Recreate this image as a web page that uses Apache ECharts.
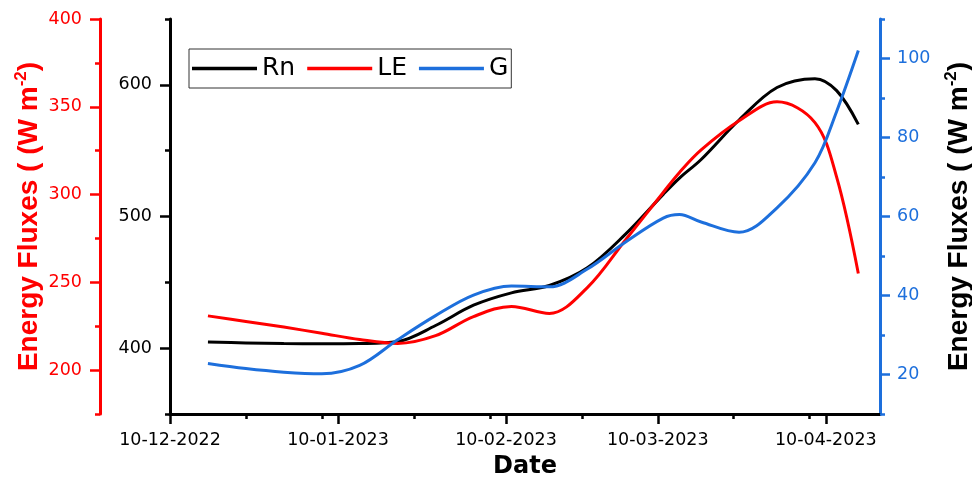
<!DOCTYPE html>
<html>
<head>
<meta charset="utf-8">
<script src="https://cdn.jsdelivr.net/npm/echarts@6/dist/echarts.min.js"></script>
<style>
  html, body { margin: 0; padding: 0; background: #ffffff; }
  #chart { width: 972px; height: 481px; }
</style>
</head>
<body>
<div id="chart"></div>
<script>
// Sampling dates (dd-mm-yyyy on the axis)
const dates = [
  '2022-12-17', '2022-12-24', '2022-12-31', '2023-01-07', '2023-01-14',
  '2023-01-21', '2023-01-28', '2023-02-04', '2023-02-11', '2023-02-18',
  '2023-02-25', '2023-03-04', '2023-03-11', '2023-03-14', '2023-03-18',
  '2023-03-25', '2023-04-01', '2023-04-08', '2023-04-12', '2023-04-16'
];
// Net radiation (W m-2), middle axis
const rn = [404.6, 404.0, 403.5, 403.3, 403.5, 405.0, 417.2, 432.6, 442.0, 447.6,
            461.0, 486.4, 516.8, 529.2, 543.3, 573.3, 598.0, 604.7, 595.6, 570.0];
// Latent heat flux (W m-2), red axis
const le = [230.9, 227.7, 224.5, 221.0, 217.4, 215.2, 219.6, 230.5, 236.3, 232.3,
            247.0, 274.0, 301.2, 312.6, 325.4, 342.0, 352.8, 341.0, 309.9, 255.0];
// Ground heat flux (W m-2), blue axis
const g = [22.8, 21.5, 20.6, 20.2, 22.3, 28.8, 34.9, 40.1, 42.4, 42.2,
           46.7, 53.5, 59.6, 60.5, 58.6, 56.0, 62.2, 73.6, 86.6, 102.0];

// Axis ticks
const xMajorTicks = ['2022-12-10', '2023-01-10', '2023-02-10', '2023-03-10', '2023-04-10'];
const xMinorTicks = ['2022-12-24', '2023-01-07', '2023-01-24', '2023-02-07',
                     '2023-02-24', '2023-03-24', '2023-04-07'];
const rnLabels = [400, 500, 600];
const leLabels = [200, 250, 300, 350, 400];
const gLabels = [20, 40, 60, 80, 100];

const RED = '#ff0000';
const BLUE = '#1d6fdc';
const BLACK = '#000000';
const TICK_FONT = 'DejaVu Sans';
const SMOOTH = 0.35;

// Dates are kept as millisecond timestamps on a numeric axis
function toTime(s) {
  const p = s.split('-').map(Number);
  return new Date(p[0], p[1] - 1, p[2]).getTime();
}
function pad(n) { return (n < 10 ? '0' : '') + n; }
function fmtDate(v) {
  const d = new Date(v);
  return pad(d.getDate()) + '-' + pad(d.getMonth() + 1) + '-' + d.getFullYear();
}

const xMin = toTime('2022-12-10');
const xMax = toTime('2023-04-20');
const times = dates.map(toTime);
const pairs = arr => times.map((t, i) => [t, arr[i]]);

const axisName = 'Energy Fluxes ( (W m{sup|-2})';
function nameStyle(color) {
  return {
    color: color, fontSize: 28, fontWeight: 'bold', fontFamily: 'Liberation Sans',
    lineHeight: 32,
    rich: {
      sup: { color: color, fontSize: 17, fontWeight: 'bold', fontFamily: 'Liberation Sans',
             verticalAlign: 'top', lineHeight: 18 }
    }
  };
}

// One labelled y axis (line, minor ticks, labels) plus a tick-only twin for the longer major ticks
function yPair(opts) {
  const base = {
    type: 'value', gridIndex: 0, position: opts.position, offset: opts.offset || 0,
    min: opts.min, max: opts.max, interval: opts.minor,
    splitLine: { show: false }, nameMoveOverlap: false
  };
  const main = Object.assign({}, base, {
    axisLine: { show: true, onZero: false, lineStyle: { color: opts.color, width: 3 } },
    axisTick: { show: true, inside: false, length: 5, lineStyle: { color: opts.color, width: 2.5 } },
    axisLabel: { show: true, customValues: opts.labels, color: opts.labelColor, fontSize: 17.5,
                 fontFamily: TICK_FONT, margin: opts.margin }
  });
  if (opts.name) {
    Object.assign(main, {
      name: opts.name, nameLocation: 'middle', nameGap: opts.nameGap, nameRotate: 90,
      nameTextStyle: nameStyle(opts.nameColor)
    });
  }
  const major = Object.assign({}, base, {
    axisLine: { show: false, onZero: false },
    axisTick: { show: true, inside: false, customValues: opts.labels, length: 10,
                lineStyle: { color: opts.color, width: 2.5 } },
    axisLabel: { show: false }
  });
  return [main, major];
}

const yAxes = [].concat(
  yPair({ position: 'left', min: 350, max: 650, minor: 50, labels: rnLabels,
          color: BLACK, labelColor: BLACK, margin: 18 }),
  yPair({ position: 'left', offset: 70, min: 175, max: 400, minor: 25, labels: leLabels,
          color: RED, labelColor: RED, margin: 18,
          name: axisName, nameGap: 55, nameColor: RED }),
  yPair({ position: 'right', min: 10, max: 110, minor: 10, labels: gLabels,
          color: BLUE, labelColor: BLUE, margin: 17,
          name: axisName, nameGap: 63, nameColor: BLACK })
);

const chart = echarts.init(document.getElementById('chart'), null, { renderer: 'canvas' });
chart.setOption({
  animation: false,
  backgroundColor: '#ffffff',
  grid: { left: 170, right: 92, top: 19, bottom: 67, containLabel: false, outerBoundsMode: 'none' },
  legend: {
    data: ['Rn', 'LE', 'G'],
    left: 189, top: 49,
    orient: 'horizontal',
    icon: 'rect',
    itemWidth: 65, itemHeight: 3.5, itemGap: 12,
    padding: [7, 3, 7, 3],
    borderColor: '#333333', borderWidth: 1,
    textStyle: { fontSize: 25, fontFamily: TICK_FONT, color: BLACK }
  },
  xAxis: [
    {
      type: 'value', gridIndex: 0, position: 'bottom', min: xMin, max: xMax,
      splitLine: { show: false },
      axisLine: { show: true, onZero: false, lineStyle: { color: BLACK, width: 3 } },
      axisTick: { show: true, inside: false, customValues: xMajorTicks.map(toTime), length: 10,
                  lineStyle: { color: BLACK, width: 2.5 } },
      axisLabel: { show: true, customValues: xMajorTicks.map(toTime), formatter: fmtDate,
                   color: BLACK, fontSize: 17.5, fontFamily: TICK_FONT, margin: 17 },
      name: 'Date', nameLocation: 'middle', nameGap: 41, nameMoveOverlap: false,
      nameTextStyle: { color: BLACK, fontSize: 24, fontWeight: 'bold', fontFamily: TICK_FONT }
    },
    {
      type: 'value', gridIndex: 0, position: 'bottom', min: xMin, max: xMax,
      splitLine: { show: false },
      axisLine: { show: false, onZero: false },
      axisTick: { show: true, inside: false, customValues: xMinorTicks.map(toTime), length: 5,
                  lineStyle: { color: BLACK, width: 2.5 } },
      axisLabel: { show: false }
    }
  ],
  yAxis: yAxes,
  series: [
    { name: 'Rn', type: 'line', xAxisIndex: 0, yAxisIndex: 0, data: pairs(rn),
      smooth: SMOOTH, symbol: 'none', showSymbol: false,
      lineStyle: { color: BLACK, width: 3 }, itemStyle: { color: BLACK } },
    { name: 'LE', type: 'line', xAxisIndex: 0, yAxisIndex: 2, data: pairs(le),
      smooth: SMOOTH, symbol: 'none', showSymbol: false,
      lineStyle: { color: RED, width: 3 }, itemStyle: { color: RED } },
    { name: 'G', type: 'line', xAxisIndex: 0, yAxisIndex: 4, data: pairs(g),
      smooth: SMOOTH, symbol: 'none', showSymbol: false,
      lineStyle: { color: BLUE, width: 3 }, itemStyle: { color: BLUE } }
  ]
});
</script>
</body>
</html>
